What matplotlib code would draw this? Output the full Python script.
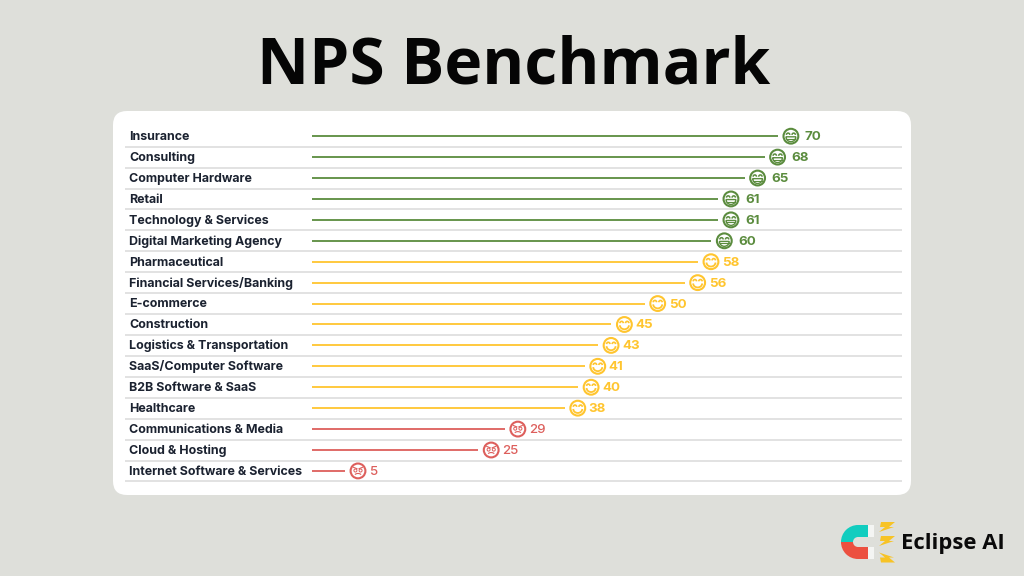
import matplotlib
matplotlib.use("Agg")
import matplotlib.pyplot as plt
from matplotlib.patches import FancyBboxPatch, Circle, Wedge, Rectangle, Polygon, Arc
from matplotlib.transforms import Affine2D, ScaledTranslation

industries = ["Insurance", "Consulting", "Computer Hardware", "Retail", "Technology & Services",
              "Digital Marketing Agency", "Pharmaceutical", "Financial Services/Banking", "E-commerce",
              "Construction", "Logistics & Transportation", "SaaS/Computer Software", "B2B Software & SaaS",
              "Healthcare", "Communications & Media", "Cloud & Hosting", "Internet Software & Services"]
scores = [70, 68, 65, 61, 61, 60, 58, 56, 50, 45, 43, 41, 40, 38, 29, 25, 5]
GREEN, YELLOW, RED, BG, GRID, INK = "#5B8C3E", "#FFC52F", "#DD5F5C", "#DEDFDA", "#DADADA", "#1B2230"

def tier(v):
    return "great" if v >= 60 else ("good" if v >= 30 else "bad")
COL = {"great": GREEN, "good": YELLOW, "bad": RED}

W, H = 1024, 576
fig = plt.figure(figsize=(W/100, H/100), dpi=100, facecolor=BG)

# pixel-space layer
bg = fig.add_axes([0, 0, 1, 1]); bg.set_xlim(0, W); bg.set_ylim(H, 0); bg.axis("off")
bg.add_patch(FancyBboxPatch((127, 125), 770, 356, boxstyle="round,pad=14,rounding_size=14",
                            fc="white", ec="none"))
bg.text(513.5, 83, "NPS Benchmark", family="Open Sans", weight="bold", fontsize=46.2,
        ha="center", va="baseline", color="#050505")

# chart axes: value scale on x, row on y
PX0, PX1, ROW0, ROWH = 311.7, 902, 136.2, 20.92
ax = fig.add_axes([PX0/W, 1-(ROW0+ROWH*16.5)/H, (PX1-PX0)/W, ROWH*17/H])
ax.set_xlim(0, (PX1-PX0)/6.66); ax.set_ylim(16.5, -0.5); ax.axis("off")
ax.patch.set_alpha(0)

def face(v, r, kind):
    c = COL[kind]
    # pixel-sized glyph anchored on the data point, y flipped to match screen
    t = Affine2D().scale(1, -1).translate(13, 0) + ScaledTranslation(v, r, ax.transData)
    kw = dict(transform=t, clip_on=False)
    ax.add_patch(Circle((0, 0), 7.4, fc="none", ec=c, lw=1.5, **kw))
    if kind == "bad":
        ax.add_patch(Arc((0, 4.8), 7, 4.5, theta1=200, theta2=340, ec=c, lw=0.8, **kw))
        ax.plot([-4.5, -1], [-3.6, -2.2], color=c, lw=0.8, **kw)
        ax.plot([4.5, 1], [-3.6, -2.2], color=c, lw=0.8, **kw)
        ax.add_patch(Circle((-2.6, -0.4), 1.5, fc="none", ec=c, lw=0.7, **kw))
        ax.add_patch(Circle((2.6, -0.4), 1.5, fc="none", ec=c, lw=0.7, **kw))
    else:
        lw = 1.1 if kind == "great" else 1.2
        ax.add_patch(Arc((-2.8, -1.3), 3.4, 3.6, theta1=180, theta2=360, ec=c, lw=lw, **kw))
        ax.add_patch(Arc((2.8, -1.3), 3.4, 3.6, theta1=180, theta2=360, ec=c, lw=lw, **kw))
        if kind == "great":
            ax.add_patch(Wedge((0, 0.6), 4.9, 0, 180, fc="white", ec=c, lw=1.0, **kw))
            ax.plot([-4.4, 4.4], [2.6, 2.6], color=c, lw=0.8, **kw)
        else:
            ax.add_patch(Arc((0, 0.8), 9, 8, theta1=0, theta2=180, ec=c, lw=1.3, **kw))

for r, (name, v) in enumerate(zip(industries, scores)):
    kind = tier(v)
    c = COL[kind]
    ax.hlines(r, 0, v, color=c, lw=1.3)
    face(v, r, kind)
    dx = 27 if kind == "great" else 24
    ax.annotate(str(v), (v, r), xytext=(dx, -4), textcoords="offset pixels", va="baseline", ha="left",
                family="Inter", weight="bold" if kind != "bad" else "medium", fontsize=9.6, color=c)
    y = ROW0 + ROWH*r
    bg.text(129, y+3.9, name, family="Inter", weight="bold", fontsize=8.95, color=INK,
            ha="left", va="baseline")
    bg.plot([125, 902], [y+10.5, y+10.5], color=GRID, lw=1.1, solid_capstyle="butt")

# logo
bg.add_patch(Wedge((858, 542), 17, 180, 270, width=12, fc="#11CDBF", ec="none"))
bg.add_patch(Wedge((858, 542), 17, 90, 180, width=12, fc="#EC5040", ec="none"))
bg.add_patch(Rectangle((858, 525), 10, 12, fc="#11CDBF", ec="none"))
bg.add_patch(Rectangle((858, 547), 10, 12, fc="#EC5040", ec="none"))
bg.add_patch(Rectangle((868, 525), 6, 12, fc="#F4F5F3", ec="none"))
bg.add_patch(Rectangle((868, 547), 6, 12, fc="#F4F5F3", ec="none"))
for (cx, cy, flip) in [(887, 527, 1), (887, 541, 1), (887, 557.5, -1)]:
    pts = [(-6, -5*flip), (8, -5*flip), (2, 0), (7, 0), (-8, 5*flip), (-2, 0), (-7, 0)]
    bg.add_patch(Polygon([(cx+a, cy+b) for a, b in pts], fc="#F7C325", ec="none"))
bg.text(901, 549, "Eclipse AI", family="Open Sans", weight="bold", fontsize=15.8, color="#0A0A0A",
        ha="left", va="baseline")

fig.savefig("out.png", dpi=100, facecolor=BG)
